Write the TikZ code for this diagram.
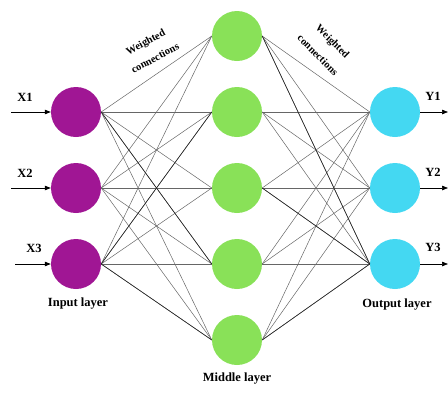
\documentclass[tikz,border=0pt]{standalone}
\usepackage{fontspec}
\setmainfont{Liberation Serif}
\usepackage{xcolor}
\usetikzlibrary{arrows.meta,positioning}

\definecolor{inpurple}{RGB}{160,22,148}
\definecolor{midgreen}{RGB}{137,225,88}
\definecolor{outcyan}{RGB}{68,216,242}

\begin{document}
\begin{tikzpicture}[x=1pt, y=-1pt,
  neuron/.style={circle, minimum size=50pt, inner sep=0pt},
  lbl/.style={font=\fontsize{12.5}{14}\selectfont\bfseries},
  wlbl/.style={font=\fontsize{10.5}{11}\selectfont\bfseries, inner sep=0pt},
  wire/.style={black!60, line width=0.5pt},
  darkwire/.style={black!85, line width=0.6pt},
  feed/.style={black, line width=0.7pt, -{Triangle[length=6pt, width=4.5pt]}}]

\useasboundingbox (0,0) rectangle (448,394);

% Input layer
\foreach \k/\y in {1/112, 2/188, 3/264}
  \node[neuron, fill=inpurple] (i\k) at (76,\y) {};
\node[lbl] (inlbl) at (78,304) {Input layer};

% Middle layer
\foreach \k/\y in {1/36, 2/112, 3/188, 4/264, 5/340}
  \node[neuron, fill=midgreen] (m\k) at (237,\y) {};
\node[lbl] (midlbl) at (237,379) {Middle layer};

% Output layer
\foreach \k/\y in {1/112, 2/188, 3/264}
  \node[neuron, fill=outcyan] (o\k) at (395,\y) {};
\node[lbl] (outlbl) at (397,305) {Output layer};

% Weighted connections
\foreach \a in {1,2,3}
  \foreach \b in {1,...,5}
    \draw[wire] (i\a.east) -- (m\b.west);
\foreach \b in {1,...,5}
  \foreach \c in {1,2,3}
    \draw[wire] (m\b.east) -- (o\c.west);

% a few darker ones
\draw[darkwire] (i1.east) -- (m4.west);
\draw[darkwire] (i3.east) -- (m2.west);
\draw[darkwire] (i3.east) -- (m5.west);
\draw[darkwire] (m1.east) -- (o3.west);
\draw[darkwire] (m5.east) -- (o3.west);
\draw[darkwire] (m3.east) -- (o3.west);

% labels for the connections, one line each
\node[wlbl, rotate=28] (wl1) at (146,43) {Weighted};
\node[wlbl, rotate=28] (wl2) at (155,58) {connections};
\node[wlbl, rotate=-45] (wr1) at (332,42) {Weighted};
\node[wlbl, rotate=-45] (wr2) at (318,55) {connections};

% Inputs
\coordinate (x1) at (11,112);
\coordinate (x2) at (11,188);
\coordinate (x3) at (15,264);
\foreach \k in {1,2,3}
  \draw[feed] (x\k) -- (i\k.west);
\node[lbl] (xl1) at (25,97) {X1};
\node[lbl] (xl2) at (25,173) {X2};
\node[lbl] (xl3) at (34,248) {X3};

% Outputs
\foreach \k/\y in {1/112, 2/188, 3/264}
  \coordinate (y\k) at (448,\y);
\foreach \k in {1,2,3}
  \draw[feed] (o\k.east) -- (y\k);
\node[lbl] (yl1) at (433,96) {Y1};
\node[lbl] (yl2) at (433,172) {Y2};
\node[lbl] (yl3) at (433,247) {Y3};

\end{tikzpicture}
\end{document}
